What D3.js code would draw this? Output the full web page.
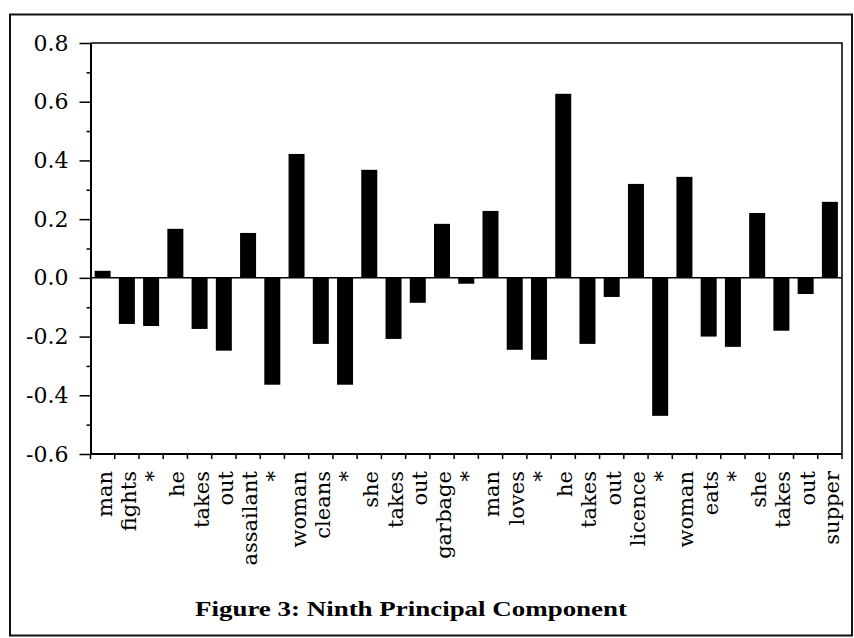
<!DOCTYPE html>
<html>
<head>
<meta charset="utf-8">
<script src="https://cdn.jsdelivr.net/npm/d3@7"></script>
<style>
  body { margin: 0; background: #fff; }
  svg { display: block; }
  .tick text { font-family: "DejaVu Serif", serif; }
</style>
</head>
<body>
<svg id="chart" width="854" height="638"></svg>
<script>
// word under each bar (sentences split one word per bar, * marks the gaps)
var labels = ["man", "fights", "*", "he", "takes", "out", "assailant", "*",
              "woman", "cleans", "*", "she", "takes", "out", "garbage", "*",
              "man", "loves", "*", "he", "takes", "out", "licence", "*",
              "woman", "eats", "*", "she", "takes", "out", "supper"];

// loadings on the ninth principal component
var values = [0.024, -0.157, -0.164, 0.167, -0.174, -0.248, 0.153, -0.364,
              0.422, -0.225, -0.364, 0.368, -0.208, -0.085, 0.184, -0.02,
              0.228, -0.245, -0.279, 0.627, -0.225, -0.065, 0.32, -0.47,
              0.344, -0.2, -0.235, 0.221, -0.18, -0.055, 0.259];

var yTicks = [-0.6, -0.4, -0.2, 0.0, 0.2, 0.4, 0.6, 0.8];
var yMinor = [-0.5, -0.3, -0.1, 0.1, 0.3, 0.5, 0.7];

var title = "Figure 3: Ninth Principal Component";

var svg = d3.select("#chart"),
    margin = {top: 43, left: 90.5, right: 12, bottom: 184},
    width = 854 - margin.left - margin.right,
    height = 638 - margin.top - margin.bottom;

// outer frame round the whole figure
svg.append("rect")
    .attr("x", 10).attr("y", 14.5)
    .attr("width", 842).attr("height", 621)
    .attr("fill", "none")
    .attr("stroke", "#111")
    .attr("stroke-width", 2);

var g = svg.append("g").attr("transform", "translate(" + margin.left + "," + margin.top + ")");

var x = d3.scaleBand()
    .domain(d3.range(values.length))
    .range([0, width])
    .paddingInner(0.34)
    .paddingOuter(0.17);

var y = d3.scaleLinear()
    .domain([-0.6, 0.8])
    .range([height, 0]);

// bars
g.selectAll(".bar")
    .data(values)
    .enter()
    .append("rect")
    .attr("class", "bar")
    .attr("fill", "#000")
    .attr("x", function(d, i) { return x(i); })
    .attr("width", x.bandwidth())
    .attr("y", function(d) { return y(Math.max(0, d)); })
    .attr("height", function(d) { return Math.abs(y(d) - y(0)); });

// zero line
g.append("line")
    .attr("x1", 0).attr("x2", width)
    .attr("y1", y(0)).attr("y2", y(0))
    .attr("stroke", "#000")
    .attr("stroke-width", 1.5);

// top and right frame of the plot
g.append("path")
    .attr("d", "M0,0H" + width + "V" + height)
    .attr("fill", "none")
    .attr("stroke", "#000")
    .attr("stroke-width", 1.5);

// y axis, major then minor ticks
var yAxis = g.append("g")
    .attr("class", "axis axis--y")
    .call(d3.axisLeft(y).tickValues(yTicks).tickFormat(d3.format(".1f")).tickSize(11).tickSizeOuter(0).tickPadding(11));
yAxis.select(".domain").attr("stroke-width", 2);
yAxis.selectAll(".tick line").attr("stroke-width", 1.5);
yAxis.selectAll(".tick text")
    .attr("font-size", 22)
    .attr("fill", "#000")
    .text(function(d) { return d3.format(".1f")(d).replace("−", "-"); });

g.append("g")
    .attr("class", "axis axis--minor")
    .call(d3.axisLeft(y).tickValues(yMinor).tickSize(4).tickFormat(""))
    .call(function(a) { a.select(".domain").remove(); })
    .selectAll(".tick line").attr("stroke-width", 1.5);

// x axis: ticks at the boundaries between bars
var bounds = d3.range(values.length + 1).map(function(i) { return i * width / values.length; });

var xAxis = g.append("g")
    .attr("class", "axis axis--x")
    .attr("transform", "translate(0," + height + ")");
xAxis.append("line")
    .attr("x1", 0).attr("x2", width)
    .attr("stroke", "#000")
    .attr("stroke-width", 2);
xAxis.selectAll(".xtick")
    .data(bounds)
    .enter()
    .append("line")
    .attr("class", "xtick")
    .attr("x1", function(d) { return d; })
    .attr("x2", function(d) { return d; })
    .attr("y1", 0).attr("y2", 5)
    .attr("stroke", "#000")
    .attr("stroke-width", 1.5);

// rotated word labels
xAxis.selectAll(".word")
    .data(labels)
    .enter()
    .append("text")
    .attr("class", "word")
    .attr("transform", function(d, i) {
        return "translate(" + (x(i) + x.bandwidth() / 2) + ",17) rotate(-90)";
    })
    .attr("x", 0)
    .attr("y", 9)
    .attr("text-anchor", "end")
    .attr("font-family", "DejaVu Serif, serif")
    .attr("font-size", 21)
    .attr("fill", "#000")
    .text(function(d) { return d; });

// caption
svg.append("text")
    .attr("x", 195)
    .attr("y", 616)
    .attr("font-family", "Liberation Serif, serif")
    .attr("font-weight", "bold")
    .attr("font-size", 22)
    .attr("textLength", 432)
    .attr("lengthAdjust", "spacingAndGlyphs")
    .attr("fill", "#000")
    .text(title);
</script>
</body>
</html>
